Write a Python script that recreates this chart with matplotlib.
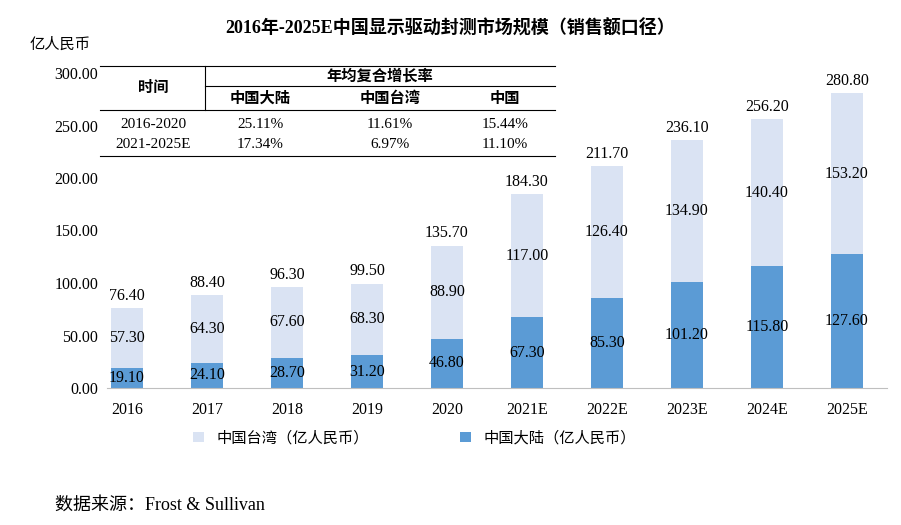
import matplotlib
matplotlib.use("Agg")
import matplotlib.pyplot as plt
from matplotlib.lines import Line2D

years = ["2016","2017","2018","2019","2020","2021E","2022E","2023E","2024E","2025E"]
mainland = [19.1,24.1,28.7,31.2,46.8,67.3,85.3,101.2,115.8,127.6]
taiwan = [57.3,64.3,67.6,68.3,88.9,117.0,126.4,134.9,140.4,153.2]
totals = [76.4,88.4,96.3,99.5,135.7,184.3,211.7,236.1,256.2,280.8]
table_rows = [["2016-2020","25.11%","11.61%","15.44%"],["2021-2025E","17.34%","6.97%","11.10%"]]

F = ['Liberation Serif','Noto Sans CJK SC']
plt.rcParams['font.family'] = F
fig = plt.figure(figsize=(9.01,5.25), dpi=100)
W, H = 901, 525
ax = fig.add_axes([87/W, 1-388/H, 800/W, 315/H])
x = range(len(years))
dark, light = "#5b9bd5", "#dae3f3"
fs = 11.5
ax.bar(x, mainland, 0.41, color=dark, label="中国大陆（亿人民币）")
ax.bar(x, taiwan, 0.41, bottom=mainland, color=light, label="中国台湾（亿人民币）")
for i in x:
    ax.text(i, mainland[i]/2, f"{mainland[i]:.2f}", ha='center', va='center', fontsize=fs)
    ax.text(i, mainland[i]+taiwan[i]/2, f"{taiwan[i]:.2f}", ha='center', va='center', fontsize=fs)
    ax.text(i, totals[i]+4, f"{totals[i]:.2f}", ha='center', va='bottom', fontsize=fs)
ax.set_xlim(-0.5, len(years)-0.5)
ax.set_ylim(0, 300)
ax.set_yticks(range(0, 301, 50))
ax.set_yticklabels([f"{v:.2f}" for v in range(0,301,50)], fontsize=fs)
ax.set_xticks(list(x)); ax.set_xticklabels(years, fontsize=fs)
for s in ['top','right','left']: ax.spines[s].set_visible(False)
ax.spines['bottom'].set_color('#bfbfbf')
ax.spines['bottom'].set_bounds(-0.25, 9.5)
ax.tick_params(length=0, pad=10)
ax.tick_params(axis='y', pad=-8)

fig.text(0.5, 1-28/H, "2016年-2025E中国显示驱动封测市场规模（销售额口径）", ha='center', va='center', fontsize=13, weight='bold')
fig.text(60/W, 1-45/H, "亿人民币", ha='center', va='center', fontsize=11)
h, l = ax.get_legend_handles_labels()
fig.legend(h[::-1], l[::-1], loc='center', bbox_to_anchor=(0.46, 1-438/H), ncol=2, frameon=False, fontsize=11, columnspacing=6, handlelength=0.7, handleheight=0.7)
fig.text(55/W, 1-505/H, "数据来源：Frost & Sullivan", ha='left', va='center', fontsize=13)

def hl(x0,x1,y): fig.add_artist(Line2D([x0/W,x1/W],[1-y/H,1-y/H], color='black', lw=0.8))
def vl(xp,y0,y1): fig.add_artist(Line2D([xp/W,xp/W],[1-y0/H,1-y1/H], color='black', lw=0.8))
hl(100,555,66); hl(205,555,86); hl(100,555,110); hl(100,555,156); vl(205,66,110)
def t(xp,yp,s,**k): fig.text(xp/W,1-yp/H,s,ha='center',va='center',fontsize=11,**k)
t(153,88,"时间",weight='bold'); t(380,76,"年均复合增长率",weight='bold')
for xp,s in [(260,"中国大陆"),(390,"中国台湾"),(505,"中国")]: t(xp,99,s,weight='bold')
for r,yp in zip(table_rows,[124,144]):
    for xp,s in zip([153,260,390,505],r): t(xp,yp,s)
fig.savefig("out.png", dpi=100)
